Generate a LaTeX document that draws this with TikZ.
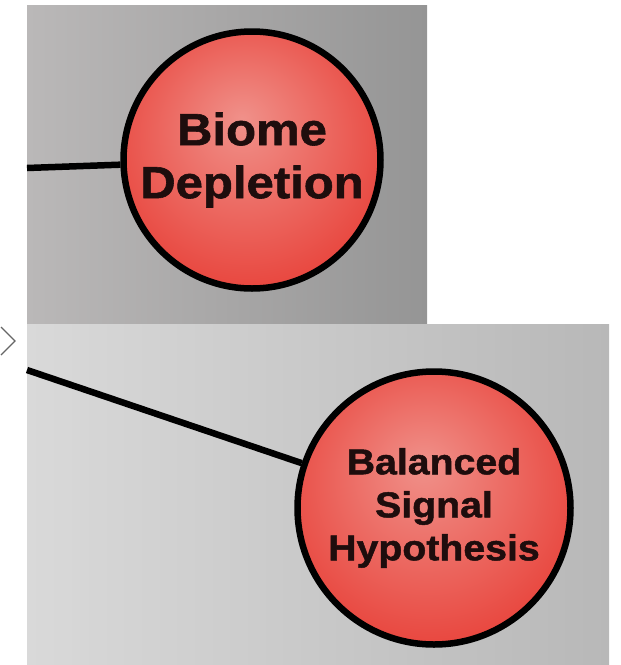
\documentclass[tikz,border=0pt]{standalone}
\usepackage{fontspec}
\setmainfont{Liberation Sans}
\newfontfamily\ballfont[BoldFeatures={FakeStretch=1.09, FakeBold=1.3}]{Liberation Sans}
\usepackage{xcolor}
\usepackage{tikz}
\usetikzlibrary{positioning}
\definecolor{toplight}{HTML}{BAB8B8}
\definecolor{topdark}{HTML}{959595}
\definecolor{lowlight}{HTML}{D9D9D9}
\definecolor{lowdark}{HTML}{B8B8B8}
\definecolor{ballpink}{HTML}{F0918A}
\definecolor{ballred}{HTML}{E8433B}
\definecolor{balldark}{HTML}{D42A24}
\definecolor{balltext}{HTML}{1E0D0D}
\definecolor{chevgrey}{HTML}{666666}
\pgfdeclareradialshading{redball}{\pgfpoint{-2bp}{8bp}}{%
  color(0bp)=(ballpink); color(30bp)=(ballred); color(50bp)=(balldark)}

\begin{document}
\begin{tikzpicture}[x=1pt, y=-1pt,
    ball/.style={circle, draw=black, line width=6.5pt, shading=redball,
                 inner sep=0pt, align=center, text=balltext},
    link/.style={line width=6.5pt, draw=black}]
    \useasboundingbox (0,0) rectangle (621,665);
    % the two panels
    \shade[left color=toplight, right color=topdark] (27,5) rectangle (427,324);
    \shade[left color=lowlight, right color=lowdark] (27,324) rectangle (609,665);
    \draw[chevgrey, line width=1.2pt] (1,327) -- (15,341) -- (1,355);

    \node[ball, minimum size=257pt,
          font=\ballfont\bfseries\fontsize{45}{53}\selectfont]
      (biome) at (252,160) {Biome\\Depletion};
    \node[ball, minimum size=273pt,
          font=\ballfont\bfseries\fontsize{36}{43}\selectfont]
      (balanced) at (434,508) {Balanced\\Signal\\Hypothesis};

    \coordinate (biomein) at (27,168);
    \coordinate (balancedin) at (27,370);
    \draw[link] (biomein) -- (biome);
    \draw[link] (balancedin) -- (balanced);
  \end{tikzpicture}
\end{document}
